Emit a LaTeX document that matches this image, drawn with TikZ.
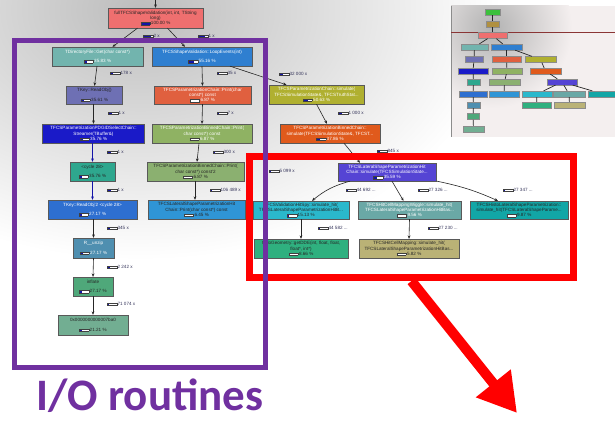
\documentclass[tikz,border=0pt]{standalone}
\usepackage{fontspec}
\setmainfont{Liberation Sans}
\newfontfamily\carlito{Carlito}
\usetikzlibrary{arrows.meta,calc}
\definecolor{barblue}{HTML}{1414A8}
\definecolor{ioPurple}{HTML}{7030A0}
\definecolor{hlRed}{HTML}{FF0000}
\definecolor{inbg}{HTML}{F4EFEF}
\definecolor{insetline}{HTML}{8A3535}
\definecolor{labtext}{HTML}{34345A}
\definecolor{cRoot}{HTML}{EF6F6F}
\definecolor{cTdir}{HTML}{72B4AE}
\definecolor{cLoop}{HTML}{2F7FD0}
\definecolor{cTkey}{HTML}{6E70B4}
\definecolor{cPchain}{HTML}{E0603F}
\definecolor{cPdg}{HTML}{1A1AC8}
\definecolor{cBchain}{HTML}{8FB263}
\definecolor{cCycle}{HTML}{2EA78E}
\definecolor{cBchainB}{HTML}{8BB070}
\definecolor{cReadB}{HTML}{2E6FD0}
\definecolor{cLprint}{HTML}{2F95D6}
\definecolor{cUnzip}{HTML}{4F8FB0}
\definecolor{cInflate}{HTML}{4FA87A}
\definecolor{cHex}{HTML}{72AE92}
\definecolor{cCsim}{HTML}{B0B030}
\definecolor{cBsim}{HTML}{E05A1C}
\definecolor{cLsim}{HTML}{5544D4}
\definecolor{cSpy}{HTML}{2AB8CC}
\definecolor{cWiggle}{HTML}{6AA8A6}
\definecolor{cHisto}{HTML}{12A6A6}
\definecolor{cDde}{HTML}{2FB07F}
\definecolor{cHcm}{HTML}{BAB276}
\definecolor{cGreen}{HTML}{3CC03C}
\definecolor{cBrown}{HTML}{B09040}
\newcommand{\pb}[1]{{\setlength{\fboxsep}{0pt}\setlength{\fboxrule}{0.3pt}\fcolorbox{black!75}{white}{{\color{barblue}\rule{#1pt}{2.3pt}}\hspace{\dimexpr 9pt-#1pt\relax}}}}
\tikzset{
  cgnode/.style={draw=black!65, line width=0.35pt, inner sep=0pt, align=center,
    font=\fontsize{4.6}{5.3}\selectfont, minimum height=19},
  wt/.style={text=white},
  bt/.style={text=black!85},
  cgedge/.style={draw=black!85, line width=0.6pt, -{Stealth[length=3.4pt,width=2.8pt]}},
  blueedge/.style={cgedge, draw=barblue},
  elab/.style={anchor=west, inner sep=0pt, font=\fontsize{4.6}{5.3}\selectfont, text=labtext},
  mini/.style={draw=black!45, line width=0.3pt, inner sep=0pt, minimum height=6},
  miniedge/.style={draw=black!85, line width=0.7pt},
  hlbox/.style={draw=hlRed, line width=7pt, inner sep=0pt},
  iobox/.style={draw=ioPurple, line width=5pt, inner sep=0pt},
}
\begin{document}
\begin{tikzpicture}[x=1pt,y=-1pt]
\useasboundingbox (0,0) rectangle (615,420);
\begin{scope}
  \clip (0,0) rectangle (615,420);
  \shade[inner color=black!26, outer color=white] (140,10) ellipse [x radius=360, y radius=250];
\end{scope}

% ---------- inset overview ----------
\fill[inbg] (451,6) rectangle (615,137);
\begin{scope}
  \clip (451,6) rectangle (615,137);
  \shade[inner color=black!30, outer color=inbg] (492,28) circle [radius=80];
\end{scope}
\draw[black!45, line width=0.8pt] (451,6) -- (451,137);
\draw[insetline, line width=0.6pt] (451,32) -- (615,32);

\node[mini, fill=cGreen,   minimum width=15] (m1)  at (492.5,12)  {};
\node[mini, fill=cBrown,   minimum width=13] (m2)  at (492.5,24)  {};
\node[mini, fill=cRoot,    minimum width=29] (m3)  at (492.5,35.5) {};
\node[mini, fill=cTdir,    minimum width=27] (m4)  at (474.5,47)  {};
\node[mini, fill=cLoop,    minimum width=31] (m5)  at (506.5,47)  {};
\node[mini, fill=cTkey,    minimum width=18] (m6)  at (474,59.5)  {};
\node[mini, fill=cPchain,  minimum width=29] (m7)  at (506.5,59.5) {};
\node[mini, fill=cCsim,    minimum width=31] (m8)  at (540.5,59.5) {};
\node[mini, fill=cPdg,     minimum width=30] (m9)  at (473,71)    {};
\node[mini, fill=cBchain,  minimum width=30] (m10) at (507,71)    {};
\node[mini, fill=cBsim,    minimum width=31] (m11) at (545.5,71)  {};
\node[mini, fill=cCycle,   minimum width=13] (m12) at (473.5,82)  {};
\node[mini, fill=cBchainB, minimum width=31] (m13) at (504.5,82)  {};
\node[mini, fill=cLsim,    minimum width=30] (m14) at (562,82)    {};
\node[mini, fill=cReadB,   minimum width=28] (m15) at (473,94)    {};
\node[mini, fill=cLprint,  minimum width=30] (m16) at (504,94)    {};
\node[mini, fill=cSpy,     minimum width=30] (m17) at (537,94)    {};
\node[mini, fill=cWiggle,  minimum width=32] (m18) at (569,94)    {};
\node[mini, fill=cHisto,   minimum width=30] (m19) at (603,94)    {};
\node[mini, fill=cUnzip,   minimum width=13] (m20) at (473.5,105) {};
\node[mini, fill=cDde,     minimum width=29] (m21) at (536.5,105) {};
\node[mini, fill=cHcm,     minimum width=31] (m22) at (569.5,105) {};
\node[mini, fill=cInflate, minimum width=12] (m23) at (473,116.5) {};
\node[mini, fill=cHex,     minimum width=21] (m24) at (473.5,129) {};
\foreach \a/\b in {m1/m2,m2/m3,m3/m4,m3/m5,m4/m6,m5/m7,m5/m8,m6/m9,m7/m10,m8/m11,
  m9/m12,m10/m13,m11/m14,m12/m15,m13/m16,m14/m17,m14/m18,m14/m19,m15/m20,m17/m21,
  m18/m22,m20/m23,m23/m24}
  \draw[miniedge] (\a) -- (\b);

% ---------- call graph nodes ----------
\node[cgnode, bt, fill=cRoot, minimum width=95, minimum height=20] (root) at (155.5,18)
  {fullTFCSShapeValidation(int, int, TString\\long)\\\pb{9}\,100.00 \%};
\node[cgnode, wt, fill=cTdir, minimum width=91] (tdir) at (97.5,56.5)
  {TDirectoryFile::Get(char const*)\\[4pt]\pb{3}\,35.83 \%};
\node[cgnode, wt, fill=cLoop, minimum width=100] (loop) at (202,56.5)
  {TFCSShapeValidation::LoopEvents(int)\\[4pt]\pb{5}\,55.16 \%};
\node[cgnode, bt, fill=cTkey, minimum width=56, minimum height=18] (tkey) at (94.5,95)
  {TKey::ReadObj()\\[4pt]\pb{3}\,35.61 \%};
\node[cgnode, wt, fill=cPchain, minimum width=97, minimum height=18] (pchain) at (202.5,95)
  {TFCSParametrizationChain::Print(char\\const*) const\\\pb{0.6}\,6.87 \%};
\node[cgnode, wt, fill=cPdg, minimum width=102] (pdg) at (93.5,133.5)
  {TFCSParametrizationPDGIDSelectChain::\\Streamer(TBuffer\&)\\\pb{3}\,35.76 \%};
\node[cgnode, wt, fill=cBchain, minimum width=100] (bchain) at (202,133.5)
  {TFCSParametrizationBinnedChain::Print(\\char const*) const\\\pb{0.6}\,6.87 \%};
\node[cgnode, bt, fill=cCycle, minimum width=45] (cycle) at (92.5,171.5)
  {<cycle 28>\\[4pt]\pb{3}\,35.76 \%};
\node[cgnode, bt, fill=cBchainB, minimum width=97] (bchainb) at (195.5,171.5)
  {TFCSParametrizationBinnedChain::Print(\\char const*) const'2\\\pb{0.6}\,6.87 \%};
\node[cgnode, wt, fill=cReadB, minimum width=89] (readb) at (92.5,209.5)
  {TKey::ReadObj'2 <cycle 28>\\[4pt]\pb{2.4}\,27.17 \%};
\node[cgnode, bt, fill=cLprint, minimum width=97] (lprint) at (196.5,209.5)
  {TFCSLateralShapeParametrizationHit\\Chain::Print(char const*) const\\\pb{0.6}\,6.45 \%};
\node[cgnode, wt, fill=cUnzip, minimum width=41, minimum height=20] (unzip) at (93.5,248)
  {R\_\_unzip\\[4pt]\pb{2.4}\,27.17 \%};
\node[cgnode, bt, fill=cInflate, minimum width=40] (inflate) at (93,286.5)
  {inflate\\[4pt]\pb{2.4}\,27.17 \%};
\node[cgnode, bt, fill=cHex, minimum width=70, minimum height=20] (hex) at (93,325)
  {0x0000000000007ba0\\[4pt]\pb{2}\,21.21 \%};

\node[cgnode, wt, fill=cCsim, minimum width=95] (csim) at (316.5,94.5)
  {TFCSParametrizationChain::simulate(\\TFCSSimulationState\&, TFCSTruthStat...\\\pb{4.5}\,50.63 \%};
\node[cgnode, wt, fill=cBsim, minimum width=100] (bsim) at (330,133.5)
  {TFCSParametrizationBinnedChain::\\simulate(TFCSSimulationState\&, TFCST...\\\pb{3.4}\,37.86 \%};
\node[cgnode, wt, fill=cLsim, minimum width=98, minimum height=18] (lsim) at (387,172)
  {TFCSLateralShapeParametrizationHit\\Chain::simulate(TFCSSimulationState...\\\pb{3.2}\,35.59 \%};
\node[cgnode, bt, fill=cSpy, minimum width=96, minimum height=18] (spy) at (301,210)
  {TFCSValidationHitSpy::simulate\_hit(\\TFCSLateralShapeParametrizationHitB...\\\pb{1.4}\,15.13 \%};
\node[cgnode, wt, fill=cWiggle, minimum width=103, minimum height=18] (wiggle) at (409.5,210)
  {TFCSHitCellMappingWiggle::simulate\_hit(\\TFCSLateralShapeParametrizationHitBas...\\\pb{0.9}\,9.56 \%};
\node[cgnode, bt, fill=cHisto, minimum width=98, minimum height=18] (histo) at (519,210)
  {TFCSHistoLateralShapeParametrization::\\simulate\_hit(TFCSLateralShapeParame...\\\pb{0.9}\,9.87 \%};
\node[cgnode, bt, fill=cDde, minimum width=94] (dde) at (301,248.5)
  {CaloGeometry::getDDE(int, float, float,\\float*, int*)\\\pb{0.8}\,8.66 \%};
\node[cgnode, bt, fill=cHcm, minimum width=100] (hcm) at (409,248.5)
  {TFCSHitCellMapping::simulate\_hit(\\TFCSLateralShapeParametrizationHitBas...\\\pb{0.5}\,5.82 \%};

% ---------- connectors ----------
\coordinate (rtop) at (155.5,0);
\draw[cgedge] (rtop) -- (root.north);
\draw[cgedge] ([xshift=-18pt]root.south) -- ([xshift=15pt]tdir.north);
\draw[cgedge] ([xshift=12pt]root.south) -- ([xshift=-17pt]loop.north);
\draw[cgedge] ([xshift=-0.5pt]tdir.south) -- (tkey.north);
\draw[cgedge] ([xshift=-1pt]tkey.south) -- (pdg.north);
\draw[blueedge] ([xshift=-1pt]pdg.south) -- (cycle.north);
\draw[blueedge] (cycle.south) -- (readb.north);
\draw[cgedge] ([xshift=1pt]readb.south) -- (unzip.north);
\draw[cgedge] (unzip.south) -- (inflate.north);
\draw[cgedge] (inflate.south) -- (hex.north);
\draw[cgedge] (loop.south) -- (pchain.north);
\draw[cgedge] (pchain.south) -- (bchain.north);
\draw[cgedge] ([xshift=-3pt]bchain.south) -- ([xshift=1.5pt]bchainb.north);
\draw[cgedge] ([xshift=-0.5pt]bchainb.south) -- ([xshift=-1.5pt]lprint.north);
\draw[cgedge] ([xshift=28pt]loop.south) -- ([xshift=-30pt]csim.north);
\draw[cgedge] (csim.south) -- ([xshift=-3pt]bsim.north);
\draw[cgedge] ([xshift=14pt]bsim.south) -- ([xshift=-27pt]lsim.north);
\draw[cgedge] ([xshift=-37pt]lsim.south) to[bend right=12] ([xshift=11pt]spy.north);
\draw[cgedge] ([xshift=5pt]lsim.south) -- ([xshift=-6pt]wiggle.north);
\draw[cgedge] ([xshift=50pt]lsim.south) to[bend left=6] ([xshift=-21pt]histo.north);
\draw[cgedge] (spy.south) -- (dde.north);
\draw[cgedge] (wiggle.south) -- (hcm.north);

% ---------- edge labels ----------
\node[elab] (l1)  at (143,36)  {\pb{7}\,2 x};
\node[elab] (l2)  at (198,36)  {\pb{6}\,1 x};
\node[elab] (l3)  at (110,73)  {\pb{2}\,178 x};
\node[elab] (l4)  at (217,73)  {\pb{0.3}\,35 x};
\node[elab] (l5)  at (279,74)  {\pb{3}\,32 000 x};
\node[elab] (l6)  at (108,113) {\pb{3}\,1 x};
\node[elab] (l7)  at (217,113) {\pb{0.3}\,7 x};
\node[elab] (l8)  at (338,113) {\pb{3}\,1 000 x};
\node[elab] (l9)  at (107,152) {\pb{3}\,1 x};
\node[elab] (l10) at (213,152) {\pb{0.3}\,300 x};
\node[elab] (l11) at (377,151) {\pb{2}\,845 x};
\node[elab] (l12) at (107,190) {\pb{3}\,1 x};
\node[elab] (l13) at (210,190) {\pb{0.3}\,106 489 x};
\node[elab] (l14) at (269,171) {\pb{0.3}\,5 099 x};
\node[elab] (l15) at (346,190) {\pb{1}\,44 692 ...};
\node[elab] (l16) at (418,190) {\pb{0.5}\,27 326 ...};
\node[elab] (l17) at (503,190) {\pb{0.5}\,27 347 ...};
\node[elab] (l18) at (107,228) {\pb{2}\,345 x};
\node[elab] (l19) at (318,228) {\pb{0.5}\,44 582 ...};
\node[elab] (l20) at (428,228) {\pb{0.5}\,27 230 ...};
\node[elab] (l21) at (107,267) {\pb{2}\,2 242 x};
\node[elab] (l22) at (107,304) {\pb{1.5}\,71 074 x};

% ---------- highlight boxes ----------
\node[hlbox, minimum width=324, minimum height=121] (redbox) at (411.5,217) {};
\coordinate (arrowtip) at (517,413);
\draw[hlRed, line width=10pt, -{Triangle[length=38pt,width=42pt]}] (redbox.south) -- (arrowtip);
\node[iobox, minimum width=251, minimum height=327] (iobox) at (140,204) {};
\node[font=\carlito\bfseries\fontsize{45}{48}\selectfont, text=ioPurple, anchor=base, inner sep=0pt] (iolabel) at (150,410) {I/O routines};
\end{tikzpicture}
\end{document}
